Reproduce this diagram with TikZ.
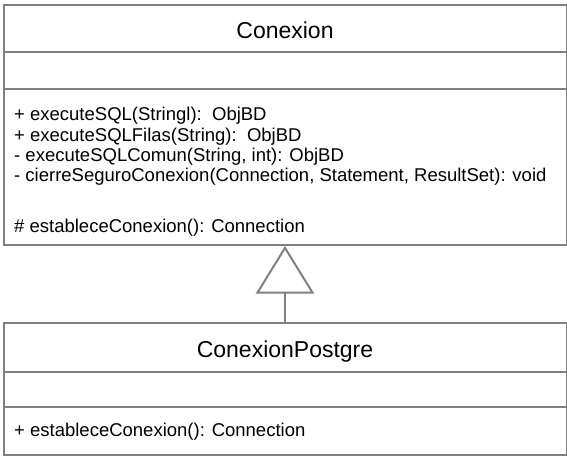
\documentclass[tikz,border=0pt]{standalone}
\usepackage{fontspec}
\setmainfont{Liberation Sans}
\usetikzlibrary{arrows.meta}
\definecolor{umlgray}{RGB}{128,128,128}
\tikzset{
  umlline/.style={draw=umlgray, line width=2pt},
  classbox/.style={umlline, fill=white, rectangle, inner sep=0pt, minimum width=563pt},
  classname/.style={font=\fontsize{23}{27}\selectfont, inner sep=0pt, anchor=base},
  member/.style={font=\fontsize{18.5}{20}\selectfont, inner sep=0pt, anchor=base west},
  inherit/.style={umlline, -{Triangle[open, length=47.7pt, width=58.3pt]}}
}
\begin{document}
\begin{tikzpicture}[x=1pt, y=-1pt]
\useasboundingbox (0,0) rectangle (567,458);
% boxes
\node[classbox, minimum height=240pt] (conexion) at (285,125) {};
\node[classbox, minimum height=132pt] (postgre) at (285,389) {};
% compartments
\draw[umlline] (conexion.west |- 0,52) -- (conexion.east |- 0,52);
\draw[umlline] (conexion.west |- 0,89) -- (conexion.east |- 0,89);
\draw[umlline] (postgre.west |- 0,372) -- (postgre.east |- 0,372);
\draw[umlline] (postgre.west |- 0,407) -- (postgre.east |- 0,407);
% names
\node[classname] (conexionname) at (285,38) {Conexion};
\node[classname] (postgrename) at (285,357.5) {ConexionPostgre};
% members
\node[member] (m1) at (14,120.5) {+ executeSQL(Stringl):\ \ ObjBD};
\node[member] (m2) at (14,141) {+ executeSQLFilas(String):\ \ ObjBD};
\node[member] (m3) at (14,161.3) {- executeSQLComun(String, int): ObjBD};
\node[member] (m4) at (14,181.6) {- cierreSeguroConexion(Connection, Statement, ResultSet): void};
\node[member] (m5) at (14,232) {\# estableceConexion(): Connection};
\node[member] (p1) at (14,436) {+ estableceConexion(): Connection};
% inheritance
\draw[inherit] (postgre.north) -- (conexion.south);
\end{tikzpicture}
\end{document}
